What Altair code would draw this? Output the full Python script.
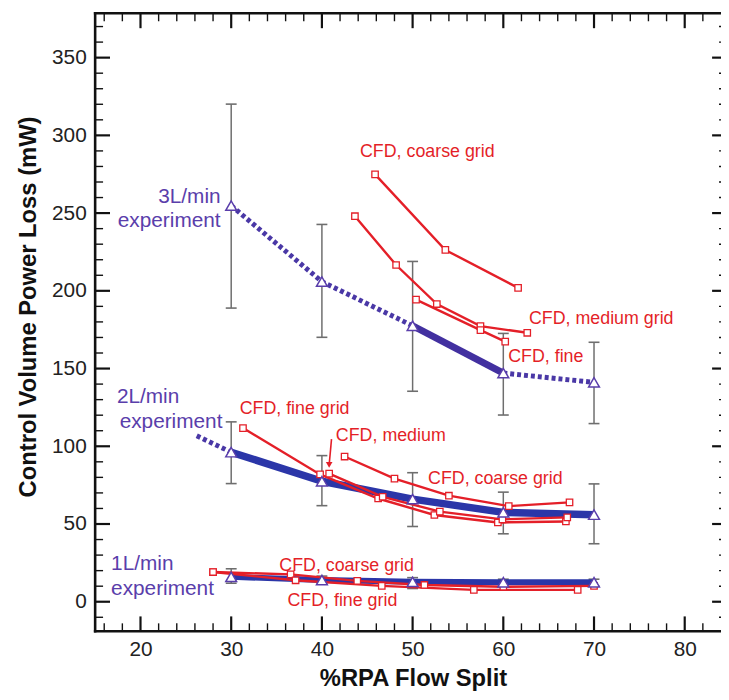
import altair as alt
import pandas as pd

# ---------------- data ----------------
FLOW = [30, 40, 50, 60, 70]

EXP3_Y = [254.8, 205.9, 177.5, 147.1, 141.1]
EXP3_LO = [188.9, 170.1, 135.4, 120.1, 114.6]
EXP3_HI = [320.1, 242.7, 218.9, 172.6, 166.9]

EXP2_Y = [96.2, 77.5, 66.0, 57.5, 56.0]
EXP2_LO = [76.0, 61.8, 48.4, 43.7, 37.3]
EXP2_HI = [115.7, 94.0, 83.0, 70.5, 75.8]
EXP2_LEAD_X = [26.2, 30]
EXP2_LEAD_Y = [106.8, 96.2]

EXP1_Y = [16.0, 14.0, 12.8, 12.5, 12.5]
EXP1_LO = [11.9, 11.5, 8.5, 10.0, 10.0]
EXP1_HI = [21.2, 16.5, 15.5, 14.5, 14.5]

CFD3_COARSE_X = [45.86, 53.61, 61.63]
CFD3_COARSE_Y = [274.9, 226.3, 201.9]
CFD3_MEDIUM_X = [43.64, 48.18, 52.67, 57.48, 62.64]
CFD3_MEDIUM_Y = [248.0, 216.6, 191.5, 177.3, 173.0]
CFD3_FINE_X = [50.38, 57.48, 60.21]
CFD3_FINE_Y = [194.3, 174.7, 167.3]

CFD2_FINE_X = [31.3, 39.8, 46.2, 52.4, 59.4, 66.9]
CFD2_FINE_Y = [111.7, 81.9, 66.4, 55.8, 51.0, 51.6]
CFD2_MEDIUM_X = [40.8, 46.7, 53.0, 59.9, 67.05]
CFD2_MEDIUM_Y = [82.4, 67.5, 58.0, 53.0, 54.3]
CFD2_COARSE_X = [42.5, 48.0, 54.0, 60.6, 67.3]
CFD2_COARSE_Y = [93.4, 79.2, 68.2, 61.5, 63.9]

CFD1_COARSE_X = [28.0, 36.55, 43.9, 51.3, 60.0, 70.0]
CFD1_COARSE_Y = [19.1, 17.6, 13.4, 10.8, 9.6, 10.2]
CFD1_FINE_X = [28.0, 37.1, 46.6, 56.75, 68.2]
CFD1_FINE_Y = [19.1, 13.8, 10.2, 7.6, 7.6]

EXP_LABELS_R = ["3L/min", "experiment"]
EXP_LABELS_R_X = [28.83, 28.83]
EXP_LABELS_R_Y = [260.2, 244.6]
EXP_LABELS_L = ["2L/min", "experiment", "1L/min", "experiment"]
EXP_LABELS_L_X = [17.4, 17.7, 16.76, 16.76]
EXP_LABELS_L_Y = [131.6, 115.8, 24.4, 8.4]

CFD_LABELS = ["CFD, coarse grid", "CFD, medium grid", "CFD, fine",
              "CFD, fine grid", "CFD, medium", "CFD, coarse grid",
              "CFD, coarse grid", "CFD, fine grid"]
CFD_LABELS_X = [44.2, 62.83, 60.54, 30.93, 41.54, 51.7, 35.3, 36.2]
CFD_LABELS_Y = [289.4, 181.7, 157.7, 123.8, 106.4, 79.2, 22.9, 0.6]

ARROW_X = [41.06, 40.8]
ARROW_Y = [104.6, 88.0]

X_MAJOR = [20, 30, 40, 50, 60, 70, 80]
X_MINOR = [16, 18, 22, 24, 26, 28, 32, 34, 36, 38, 42, 44, 46, 48,
           52, 54, 56, 58, 62, 64, 66, 68, 72, 74, 76, 78, 82]
Y_MAJOR = [0, 50, 100, 150, 200, 250, 300, 350]
Y_MINOR = [-10, 10, 20, 30, 40, 60, 70, 80, 90, 110, 120, 130, 140,
           160, 170, 180, 190, 210, 220, 230, 240, 260, 270, 280, 290,
           310, 320, 330, 340, 360, 370]

# ---------------- styling ----------------
W, H = 632, 624
RED = "#e41f28"
PURPLE = "#5a3eab"
DASHC = "#4a38a6"
BLUE3 = "#4230a0"
BLUE = "#2b36a8"
GRAY = "#6e6e6e"
FONT = "Liberation Sans"

XS = alt.Scale(domain=[15, 84], nice=False, zero=False)
YS = alt.Scale(domain=[-19, 378.5], nice=False, zero=False)

X_AX = alt.Axis(values=X_MAJOR, domain=False, ticks=False, tickSize=0, grid=False,
                labelFontSize=21, labelFont=FONT, labelColor="#222",
                labelPadding=18, labelBaseline="middle",
                title="%RPA Flow Split", titleFont=FONT, titleFontSize=24,
                titleFontWeight="bold", titleColor="#111",
                titleX=321, titleY=48, titleBaseline="middle", titleAlign="center")
Y_AX = alt.Axis(values=Y_MAJOR, domain=False, ticks=False, tickSize=0, grid=False,
                labelFontSize=21, labelFont=FONT, labelColor="#222",
                labelPadding=9,
                title="Control Volume Power Loss (mW)", titleFont=FONT,
                titleFontSize=24, titleFontWeight="bold", titleColor="#111",
                titleX=-67, titleY=296, titleAngle=-90,
                titleBaseline="middle", titleAlign="center")


def X(f="x"):
    return alt.X(f"{f}:Q", scale=XS, axis=X_AX)


def Y(f="y"):
    return alt.Y(f"{f}:Q", scale=YS, axis=Y_AX)


# ---------------- tables ----------------
err_rows = []
for lo, hi in [(EXP3_LO, EXP3_HI), (EXP2_LO, EXP2_HI), (EXP1_LO, EXP1_HI)]:
    for xv, l, h in zip(FLOW, lo, hi):
        err_rows.append({"x": xv, "y": l, "y2": h})
err_df = pd.DataFrame(err_rows)
cap_df = pd.DataFrame([{"x": r["x"], "y": r["y"]} for r in err_rows] +
                      [{"x": r["x"], "y": r["y2"]} for r in err_rows])

dash_rows = []
for i in range(0, 3):
    dash_rows.append({"x": FLOW[i], "y": EXP3_Y[i], "seg": "3a"})
for i in range(3, 5):
    dash_rows.append({"x": FLOW[i], "y": EXP3_Y[i], "seg": "3b"})
for xv, yv in zip(EXP2_LEAD_X, EXP2_LEAD_Y):
    dash_rows.append({"x": xv, "y": yv, "seg": "2lead"})
dash_df = pd.DataFrame(dash_rows)

solid_rows = []
for i in range(2, 4):
    solid_rows.append({"x": FLOW[i], "y": EXP3_Y[i], "seg": "3s", "c": BLUE3, "w": 7})
for xv, yv in zip(FLOW, EXP2_Y):
    solid_rows.append({"x": xv, "y": yv, "seg": "2", "c": BLUE, "w": 7.5})
for xv, yv in zip(FLOW, EXP1_Y):
    solid_rows.append({"x": xv, "y": yv, "seg": "1", "c": BLUE, "w": 6})
solid_df = pd.DataFrame(solid_rows)

tri_df = pd.DataFrame({"x": FLOW * 3, "y": EXP3_Y + EXP2_Y + EXP1_Y})

cfd_rows = []
for name, xs, ys in [("3c", CFD3_COARSE_X, CFD3_COARSE_Y),
                     ("3m", CFD3_MEDIUM_X, CFD3_MEDIUM_Y),
                     ("3f", CFD3_FINE_X, CFD3_FINE_Y),
                     ("2f", CFD2_FINE_X, CFD2_FINE_Y),
                     ("2m", CFD2_MEDIUM_X, CFD2_MEDIUM_Y),
                     ("2c", CFD2_COARSE_X, CFD2_COARSE_Y),
                     ("1c", CFD1_COARSE_X, CFD1_COARSE_Y),
                     ("1f", CFD1_FINE_X, CFD1_FINE_Y)]:
    for xv, yv in zip(xs, ys):
        cfd_rows.append({"x": xv, "y": yv, "s": name})
cfd_df = pd.DataFrame(cfd_rows)

lab_r = pd.DataFrame({"x": EXP_LABELS_R_X, "y": EXP_LABELS_R_Y, "t": EXP_LABELS_R})
lab_l = pd.DataFrame({"x": EXP_LABELS_L_X, "y": EXP_LABELS_L_Y, "t": EXP_LABELS_L})
lab_c = pd.DataFrame({"x": CFD_LABELS_X, "y": CFD_LABELS_Y, "t": CFD_LABELS})
arrow_df = pd.DataFrame({"x": [ARROW_X[0]], "y": [ARROW_Y[0]],
                         "x2": [ARROW_X[1]], "y2": [ARROW_Y[1]]})
arrow_head = pd.DataFrame({"x": [ARROW_X[1]], "y": [ARROW_Y[1]]})

# ---------------- layers ----------------
layers = []

# error bars
layers.append(alt.Chart(err_df).mark_rule(color=GRAY, strokeWidth=1.5).encode(
    x=X(), y=Y(), y2="y2:Q"))
layers.append(alt.Chart(cap_df).mark_tick(color=GRAY, orient="horizontal", size=11,
                                          thickness=1.6, opacity=1).encode(x=X(), y=Y()))

# experiment lines
layers.append(alt.Chart(dash_df).mark_line(color=DASHC, strokeWidth=5, strokeDash=[4, 3],
                                           strokeCap="butt").encode(
    x=X(), y=Y(), detail="seg:N", order="x:Q"))
layers.append(alt.Chart(solid_df).mark_line(strokeCap="butt", strokeJoin="round").encode(
    x=X(), y=Y(), detail="seg:N", order="x:Q",
    color=alt.Color("c:N", scale=None), strokeWidth=alt.StrokeWidth("w:Q", scale=None)))

# CFD lines and squares
layers.append(alt.Chart(cfd_df).mark_line(color=RED, strokeWidth=2.4).encode(
    x=X(), y=Y(), detail="s:N", order="x:Q"))
layers.append(alt.Chart(cfd_df).mark_point(shape="square", size=42, fill="white",
                                           fillOpacity=1, stroke=RED, strokeWidth=1.3,
                                           opacity=1).encode(x=X(), y=Y()))

# triangles
layers.append(alt.Chart(tri_df).mark_point(shape="triangle-up", size=120, fill="white",
                                           fillOpacity=1, stroke=PURPLE, strokeWidth=1.5,
                                           opacity=1).encode(x=X(), y=Y()))

# arrow
layers.append(alt.Chart(arrow_df).mark_rule(color=RED, strokeWidth=1.6).encode(
    x=X(), y=Y(), x2="x2:Q", y2="y2:Q"))
layers.append(alt.Chart(arrow_head).mark_point(shape="triangle-down", size=45, filled=True,
                                               color=RED, opacity=1).encode(x=X(), y=Y()))

# annotations
layers.append(alt.Chart(lab_r).mark_text(align="right", baseline="middle", font=FONT,
                                         fontSize=21, color=PURPLE).encode(
    x=X(), y=Y(), text="t:N"))
layers.append(alt.Chart(lab_l).mark_text(align="left", baseline="middle", font=FONT,
                                         fontSize=21, color=PURPLE).encode(
    x=X(), y=Y(), text="t:N"))
layers.append(alt.Chart(lab_c).mark_text(align="left", baseline="middle", font=FONT,
                                         fontSize=18, color=RED).encode(
    x=X(), y=Y(), text="t:N"))

# frame (left, top, bottom) and inward ticks on all four sides
FRAME = "#111"
layers.append(alt.Chart(pd.DataFrame({"x": [15]})).mark_rule(
    color=FRAME, strokeWidth=2.6, strokeCap="square").encode(
    x=alt.value(0), y=alt.value(0), y2=alt.value(H)))
layers.append(alt.Chart(pd.DataFrame({"x": [15]})).mark_rule(
    color=FRAME, strokeWidth=2.6, strokeCap="square").encode(
    x=alt.value(0), x2=alt.value(W), y=alt.value(0)))
layers.append(alt.Chart(pd.DataFrame({"x": [15]})).mark_rule(
    color=FRAME, strokeWidth=2.6, strokeCap="square").encode(
    x=alt.value(0), x2=alt.value(W), y=alt.value(H)))

xmaj = pd.DataFrame({"x": X_MAJOR})
xmin = pd.DataFrame({"x": X_MINOR})
ymaj = pd.DataFrame({"y": Y_MAJOR})
ymin = pd.DataFrame({"y": Y_MINOR})
for df, ln, sw in [(xmaj, 15, 2.2), (xmin, 8, 1.4)]:
    layers.append(alt.Chart(df).mark_rule(color=FRAME, strokeWidth=sw).encode(
        x=X(), y=alt.value(H), y2=alt.value(H - ln)))
    layers.append(alt.Chart(df).mark_rule(color=FRAME, strokeWidth=sw).encode(
        x=X(), y=alt.value(0), y2=alt.value(ln)))
for df, ln, sw in [(ymaj, 15, 2.2), (ymin, 8, 1.4)]:
    layers.append(alt.Chart(df).mark_rule(color=FRAME, strokeWidth=sw).encode(
        y=Y(), x=alt.value(0), x2=alt.value(ln)))
layers.append(alt.Chart(ymaj).mark_rule(color=FRAME, strokeWidth=2.2).encode(
    y=Y(), x=alt.value(W - 9), x2=alt.value(W)))
layers.append(alt.Chart(ymin).mark_rule(color=FRAME, strokeWidth=1.4).encode(
    y=Y(), x=alt.value(W - 2), x2=alt.value(W)))

chart = alt.layer(*layers).properties(
    width=W, height=H,
    padding={"left": 88, "top": 2, "right": 0, "bottom": 64},
    autosize=alt.AutoSizeParams(type="none"),
    background="white",
).configure_view(stroke=None)

chart.save("out.html", embed_options={"renderer": "svg", "actions": False})
